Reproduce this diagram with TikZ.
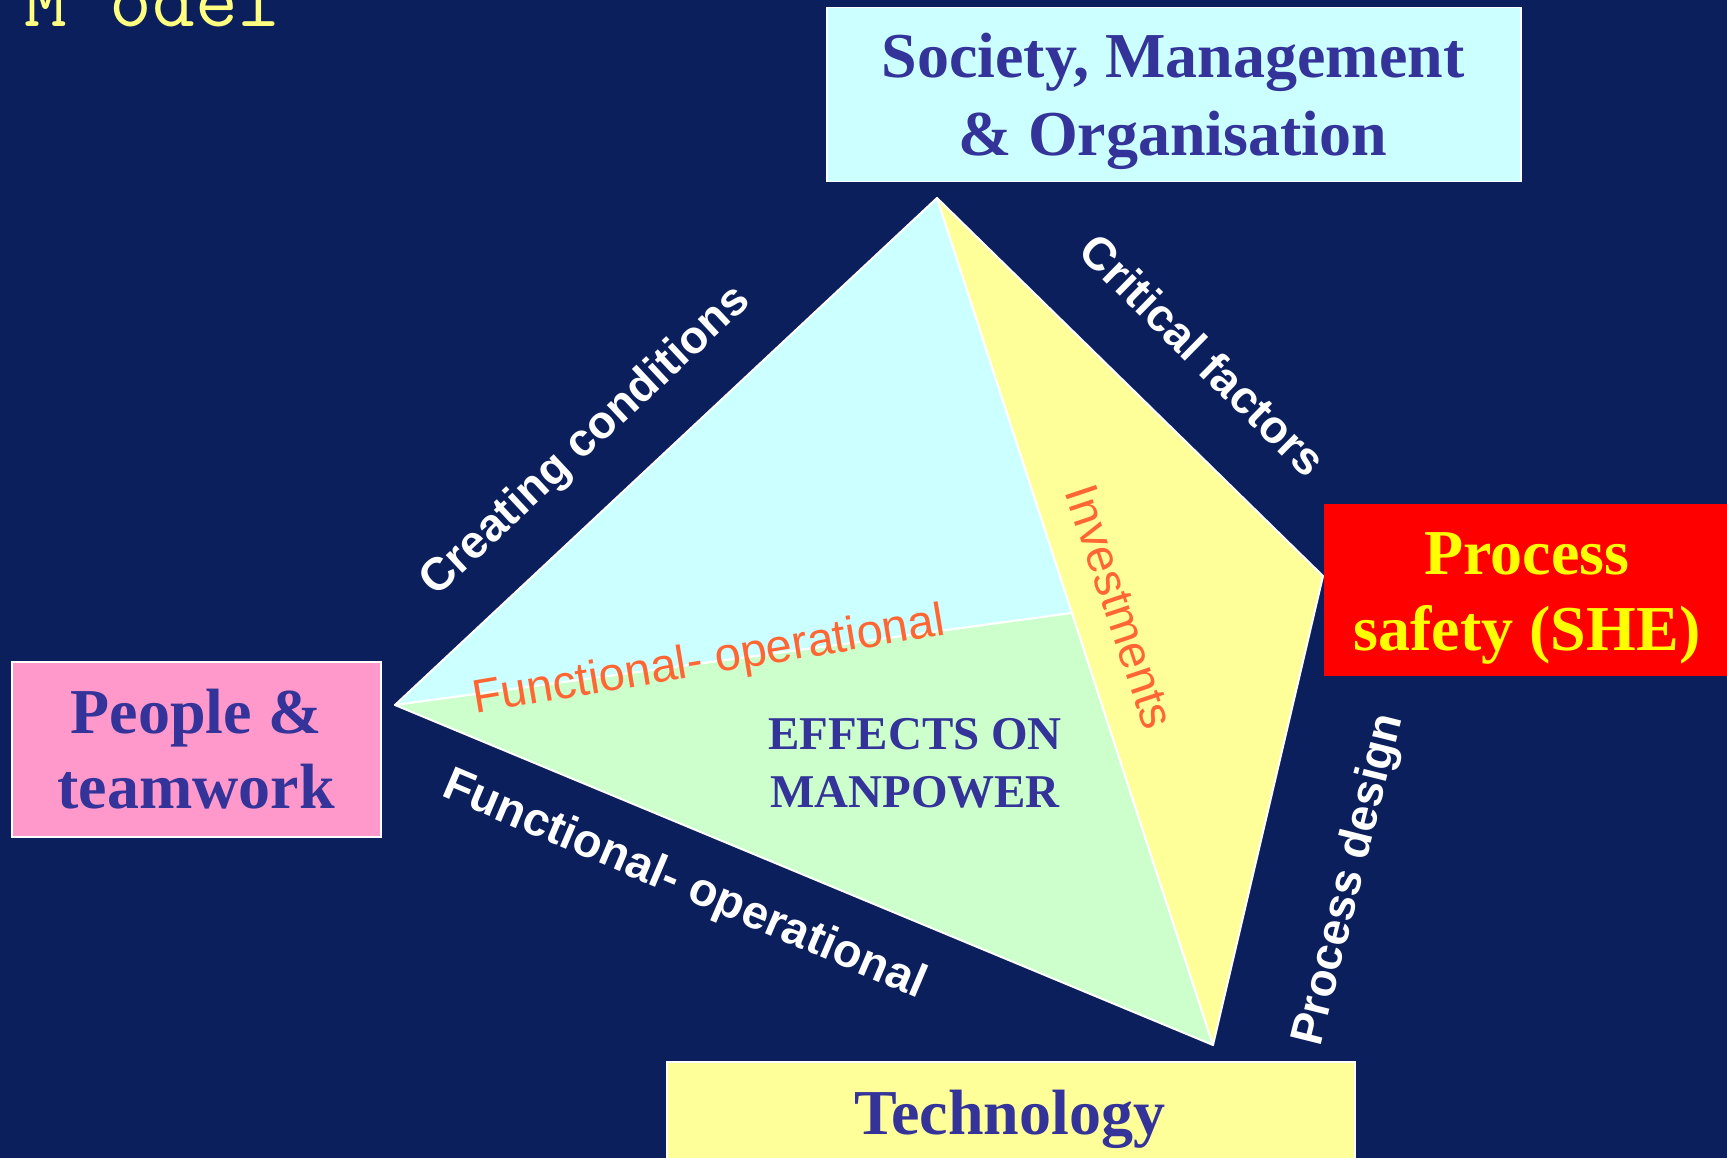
\documentclass[tikz,border=0pt]{standalone}
\usepackage{fontspec}
\setmainfont{Liberation Serif}
\newfontfamily\labelfont{Liberation Sans}

\definecolor{slidebg}{RGB}{11,31,93}
\definecolor{headblue}{RGB}{51,51,153}
\definecolor{palecyan}{RGB}{204,255,255}
\definecolor{palegreen}{RGB}{204,255,204}
\definecolor{paleyellow}{RGB}{255,255,153}
\definecolor{palepink}{RGB}{255,153,204}
\definecolor{alertred}{RGB}{255,0,0}
\definecolor{alertyellow}{RGB}{255,255,0}
\definecolor{labelorange}{RGB}{255,102,51}
\definecolor{titleyellow}{RGB}{255,255,128}

\begin{document}
\begin{tikzpicture}[x=1pt,y=-1pt,
  box/.style={draw=white, line width=1.5pt, inner sep=0pt, anchor=north west},
  heading/.style={font=\bfseries\fontsize{64}{77}\selectfont, text=headblue, inner sep=0pt, anchor=base},
  edgelabel/.style={font=\labelfont\bfseries\fontsize{46}{55}\selectfont, text=white, inner sep=0pt},
  innerlabel/.style={font=\labelfont\fontsize{47}{56}\selectfont, text=labelorange, inner sep=0pt},
  facet/.style={draw=white, line width=2pt, line join=round}]

% page and background
\useasboundingbox (0,0) rectangle (1727,1158);
\clip (0,0) rectangle (1727,1158);
\fill[slidebg] (0,0) rectangle (1727,1158);

% slide title, cut at the top edge
\node[font=\ttfamily\fontsize{83}{96}\selectfont, text=titleyellow, inner sep=0pt, anchor=base west]
  (title) at (24,27) {M odel};

% corners of the tetrahedron
\coordinate (apex)  at (937,198);
\coordinate (left)  at (395,705);
\coordinate (mid)   at (1072,613);
\coordinate (right) at (1323,576);
\coordinate (base)  at (1213,1045);

% faces
\path[facet, fill=palecyan]   (apex) -- (left) -- (mid) -- cycle;
\path[facet, fill=palegreen]  (left) -- (mid) -- (base) -- cycle;
\path[facet, fill=paleyellow] (apex) -- (mid) -- (base) -- (right) -- cycle;

% corner boxes
\node[box, fill=palecyan, minimum width=694pt, minimum height=174pt] (society) at (826,7) {};
\node[box, fill=palepink, minimum width=369pt, minimum height=175pt] (people) at (11,661) {};
\node[box, draw=none, fill=alertred, minimum width=430pt, minimum height=172pt] (safety) at (1323,503) {};
\node[box, fill=paleyellow, minimum width=688pt, minimum height=120pt] (technology) at (666,1061) {};

% box texts
\node[heading] (society1) at (1173,78)  {Society, Management};
\node[heading] (society2) at (1173,156) {\& Organisation};
\node[heading] (people1)  at (196,733)  {People \&};
\node[heading] (people2)  at (196,808)  {teamwork};
\node[heading, text=alertyellow] (safety1) at (1527,574) {Process};
\node[heading, text=alertyellow] (safety2) at (1527,650) {safety (SHE)};
\node[heading] (technology1) at (1010,1134) {Technology};

% centre text on the front face
\node[heading, font=\bfseries\fontsize{47}{56}\selectfont] (effects1) at (915,749) {EFFECTS ON};
\node[heading, font=\bfseries\fontsize{47}{56}\selectfont] (effects2) at (915,807) {MANPOWER};

% labels along the outer edges
\node[edgelabel, rotate=43]    (creating)   at (586,442)  {Creating conditions};
\node[edgelabel, rotate=-44.5] (critical)   at (1203,355) {Critical factors};
\node[edgelabel, rotate=-23, font=\labelfont\bfseries\fontsize{47}{56}\selectfont]
                               (functional) at (684,886)  {Functional- operational};
\node[edgelabel, rotate=76]    (design)     at (1350,880) {Process design};

% labels along the inner edges
\node[innerlabel, rotate=9.5]   (functionalin) at (709,662)  {Functional- operational};
\node[innerlabel, rotate=-71.5] (investments)  at (1120,607) {Investments};
\end{tikzpicture}
\end{document}
